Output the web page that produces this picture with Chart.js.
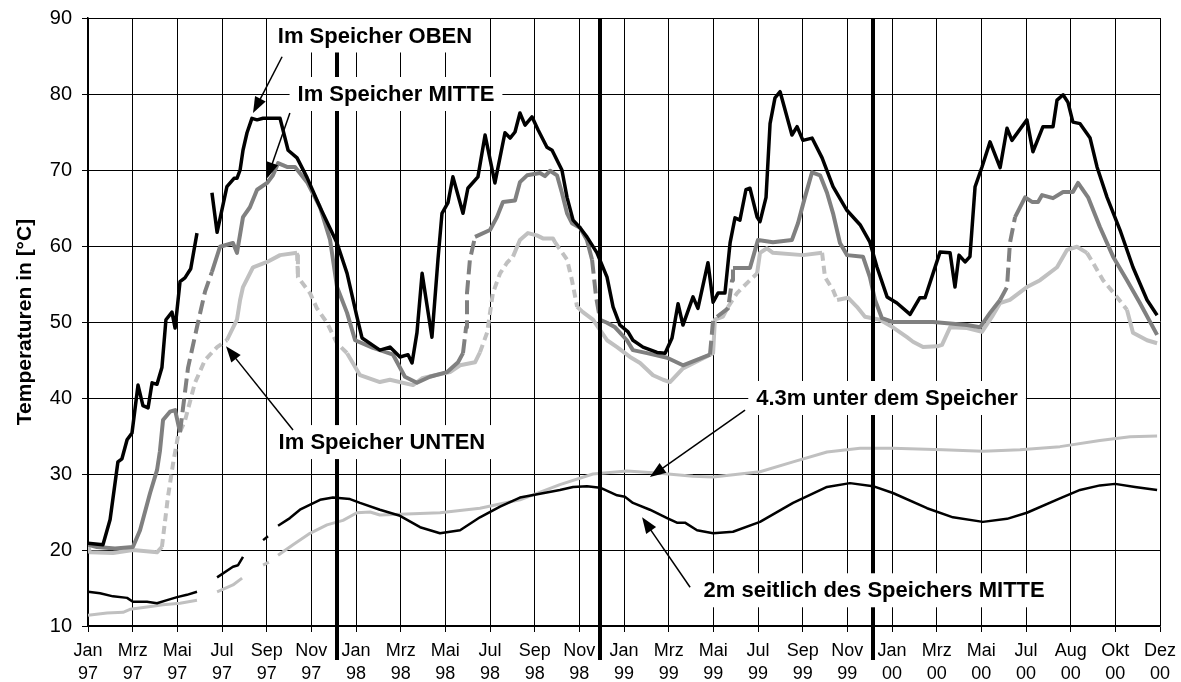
<!DOCTYPE html>
<html>
<head>
<meta charset="utf-8">
<script src="https://cdn.jsdelivr.net/npm/chart.js@4/dist/chart.umd.min.js"></script>
<style>
    body { margin: 0; background: #fff; }
    #chart { display: block; }
</style>
</head>
<body>
<canvas id="chart" width="1181" height="682"></canvas>
<script>
// Achsenbeschriftung (alle 2 Monate)
const monate = ['Jan','Mrz','Mai','Jul','Sep','Nov','Jan','Mrz','Mai','Jul','Sep','Nov',
                'Jan','Mrz','Mai','Jul','Sep','Nov','Jan','Mrz','Mai','Jul','Aug','Okt','Dez'];
const jahre = ['97','97','97','97','97','97','98','98','98','98','98','98',
               '99','99','99','99','99','99','00','00','00','00','00','00','00'];

// Zeit in Monaten ab Jan 97, Temperaturen in °C (null = Messluecke)
const obenMonat = [0,0.67,0.99,1.34,1.52,1.75,1.97,2.24,2.46,2.69,2.87,3.09,3.31,3.49,3.76,3.9,4.12,4.34,4.6,4.88,5.2,
    5.55,5.78,6.22,6.54,6.67,6.81,6.94,7.12,7.34,7.57,7.84,8.6,8.96,9.36,9.81,10.39,11.15,11.6,12.04,12.27,13.07,
    13.52,13.97,14.33,14.51,14.73,14.96,15.4,15.67,15.85,16.12,16.34,16.79,17.01,17.46,17.78,18.22,18.67,18.9,19.12,
    19.34,19.57,19.88,20.15,20.55,20.78,21.22,21.45,21.72,22.03,22.34,22.79,23.24,23.51,23.82,24.18,24.4,24.85,25.48,
    25.84,26.15,26.42,26.64,27.09,27.31,27.76,27.99,28.21,28.52,28.75,28.97,29.19,29.46,29.64,29.96,30.09,30.36,30.54,
    30.76,30.99,31.52,31.75,32.01,32.42,32.87,33.36,33.98,34.57,35.01,35.33,35.78,36.22,36.81,37.25,37.48,38.15,38.6,
    38.82,39,39.27,39.49,39.72,40.03,40.39,40.84,41.15,41.37,42.04,42.31,42.76,43.21,43.39,43.66,43.88,44.1,44.42,
    44.87,45.18,45.63,46.21,46.79,47.42,47.87];
const obenTemp = [20.9,20.7,24,31.6,32,34.5,35.4,41.7,39,38.7,42,41.8,44,50.3,51.3,49.2,55.3,55.8,57,61.7,null,
    67,61.8,67.8,68.9,68.9,70,72.6,74.9,76.8,76.6,76.8,76.8,72.6,71.6,69,65.1,60.4,56.4,50.7,47.9,46.3,
    46.7,45.4,45.7,44.6,48.6,56.4,48,58.2,64.3,65.7,69.1,64.3,67.6,69.1,74.6,68.3,74.9,74.2,75,
    77.5,75.9,77,75.3,73,72.6,70,66.4,63.4,62.4,61.2,59.1,55.9,52,49.6,48.7,47.6,46.7,46,
    45.9,47.9,52.4,49.6,53.3,51.8,57.8,52.6,53.8,53.8,60.4,63.7,63.4,67.4,67.6,63.8,63.2,66.4,76.1,
    79.5,80.3,74.6,75.7,73.9,74.2,71.6,67.8,64.7,62.8,60.5,57.2,53.3,52.5,51,53.2,53.2,59.2,59.1,
    54.6,58.8,57.9,58.6,67.8,70.4,73.7,70.3,75.5,73.9,76.6,72.4,75.7,75.7,79.2,79.9,78.9,76.3,76.1,
    74.2,70.4,66.4,62.1,57.2,52.9,50.9];

const mitteMonat = [0,0.4,1.21,2.01,2.33,2.78,3.09,3.22,3.36,3.67,3.9,4.12,4.48,4.93,5.24,5.55,5.91,6.49,6.67,6.94,
    7.25,7.57,8.02,8.28,8.51,8.91,9.27,9.81,10.39,10.84,11.15,11.6,11.96,12.76,13.07,13.66,14.19,14.73,15.31,16.07,
    16.57,16.79,16.93,16.97,17.1,17.33,18,18.31,18.58,19.12,19.34,19.66,20.24,20.46,20.69,21,21.22,21.45,21.67,22.03,
    22.34,22.57,22.75,22.93,23.24,23.6,24.13,24.4,25.03,25.93,26.64,27.85,27.99,28.66,28.84,28.88,29.64,30,30.67,
    31.52,31.79,32.1,32.42,32.78,33.09,33.36,33.67,33.99,34.7,35.01,35.24,35.55,36.04,37.25,37.84,39.36,39.94,40.39,
    40.84,41.15,41.28,41.51,41.96,42.27,42.54,42.72,43.21,43.66,44.1,44.33,44.78,45.31,45.9,46.52,47.1,47.87];
const mitteTemp = [20.7,20.4,20.2,20.4,22.6,27.5,30.5,33,37.1,38.2,38.4,35.5,44,50,54,56.6,59.9,60.4,59.1,63.8,
    65.1,67.4,68.3,69.3,70.9,70.4,70.4,68.4,65.1,60.8,54.6,51.2,47.6,46.6,46.3,45.7,42.8,42,42.8,43.4,
    44.7,45.9,49.3,53.8,58.2,61.2,62.1,63.8,65.8,66,68.4,69.3,69.6,69.2,69.9,69.3,67,64.3,63,62.4,
    60.8,58.2,53.3,50.3,49.9,49.3,47.6,46.3,45.9,45.3,44.3,45.7,50.3,51.8,55.5,57.1,57.1,60.8,60.5,
    60.8,63,66.4,69.7,69.3,67,64.3,60.4,58.8,58.6,55.9,52.9,50.5,50,50,50,49.6,49.3,51.2,
    52.9,54.6,60.4,63.8,66.4,65.8,65.8,66.7,66.3,67.1,67.1,68.3,66.4,62.5,58.6,55.5,52.5,48.3];

const untenMonat = [0,0.09,1.12,2.01,3.09,3.31,3.58,3.81,4.03,4.34,4.79,5.24,5.78,6.22,6.67,6.81,6.94,7.39,8.02,8.6,
    9.36,9.4,9.94,10.25,10.7,11.15,11.6,12.18,13.07,13.52,14.55,14.96,15.54,16.21,16.66,17.33,17.55,17.87,18.13,18.45,
    18.76,19.03,19.34,19.7,20.1,20.37,20.82,20.91,21.45,21.67,21.9,22.16,22.61,23.24,23.69,24.27,24.72,25.3,25.75,
    26.06,26.64,27.99,28.07,28.43,28.66,29.06,29.33,29.64,29.96,30.09,30.4,30.67,32.01,32.87,33,33.36,33.54,34.03,
    34.43,34.79,35.46,36.04,36.67,36.94,37.39,38.02,38.24,38.6,39.36,40.03,40.48,40.84,41.28,42.04,42.63,43.39,43.84,
    44.28,44.73,45,45.45,46.07,46.52,46.79,47.42,47.87];
const untenTemp = [20.5,19.7,19.6,20,19.7,20.4,27,31.4,35,37,42,45,46.7,47.6,50.3,52.9,54.6,57.2,57.9,58.8,
    59.1,55.9,53.8,51.8,49.9,47.2,45.9,43,42.1,42.4,41.7,42.6,43,43.4,44.3,44.7,46,48.6,53.8,56.4,
    57.8,58.6,60.8,61.7,61.4,61,61,60.5,58.2,55.5,52,51.3,50.3,47.6,46.7,45.4,44.6,43,42.4,
    42.1,43.9,45.9,50.3,50.7,52,53.8,54.6,55.5,56.4,59.1,59.7,59.1,58.8,59.1,55.9,54.2,52.9,53.2,
    52,50.7,50.3,49.3,48,47.4,46.7,46.8,47,49.3,49.2,48.7,50.7,52.5,52.9,54.6,55.5,57.2,59.5,
    59.9,59.1,57.8,55.5,53.3,51.6,48.6,47.6,47.2];

const seitlichMonat = [0,0.54,1.12,1.75,2.01,2.64,3.09,3.54,3.99,4.43,4.88,5.3,5.78,6.49,6.72,6.94,7.4,7.84,8.06,8.3,
    8.51,9.04,9.49,10.39,10.97,11.73,12.18,13.07,13.97,14.87,15.76,16.66,17.55,18.45,19.34,20.24,21.13,21.72,22.34,
    22.93,23.69,24.04,24.4,25.16,25.93,26.37,26.73,27.27,27.99,28.88,30.09,31.57,33.09,34.12,35.15,36.04,37.57,38.73,
    40.07,41.15,42.04,43.52,44.42,45.31,45.99,46.88,47.87];
const seitlichTemp = [14.5,14.3,13.9,13.7,13.2,13.2,13,13.4,13.8,14.1,14.5,null,16.4,17.8,18,19.1,null,21.3,21.8,null,
    23.2,24.2,25.3,26.6,26.9,26.7,26.2,25.3,24.5,23,22.2,22.6,24.3,25.7,26.9,27.4,27.9,28.3,28.4,
    28.2,27.2,27,26.2,25.3,24.2,23.6,23.6,22.6,22.2,22.4,23.7,26.2,28.3,28.8,28.4,27.5,25.5,24.3,
    23.7,24.1,24.9,26.8,27.9,28.5,28.7,28.3,27.9];

const unterMonat = [0,0.85,1.57,1.88,2.64,3.36,4.12,4.88,5.3,5.78,6.49,6.9,7.4,7.84,8.1,8.3,8.51,9.18,9.94,10.7,
    11.42,12.04,12.63,13.07,13.97,15.76,17.55,19.34,21.13,22.61,24.13,25.61,27.09,27.99,30.09,31.57,33.09,34.57,
    36.04,38.28,40.07,41.73,43.52,45.31,46.66,47.87];
const unterTemp = [11.4,11.7,11.8,12.2,12.5,12.8,13,13.4,null,14.5,15.4,16.3,null,18,18.4,null,19.3,20.7,22.2,23.3,
    23.9,24.9,25,24.6,24.7,24.9,25.5,26.6,28.6,30,30.4,30.1,29.7,29.6,30.3,31.6,32.9,33.4,
    33.4,33.2,33,33.2,33.6,34.4,34.9,35];

// gestrichelte Abschnitte (Monatsbereiche)
const mitteStriche = [[4.12, 5.55], [16.79, 17.33], [22.57, 22.93], [27.85, 28.88], [40.84, 41.51]];
const untenStriche = [[3.31, 6.22], [9.36, 11.6], [17.55, 19.03], [20.91, 21.9], [28.66, 29.96], [32.87, 33.54], [44.73, 46.52]];

// senkrechte Markierungslinien
const markenMonat = [11.15, 22.93, 35.15];

// Beschriftungen: [Text, Monat, Temp] und Pfeile [vonMonat, vonTemp, nachMonat, nachTemp]
const beschriftungen = [
    ['Im Speicher OBEN', 12.85, 87.7],
    ['Im Speicher MITTE', 13.79, 80],
    ['Im Speicher UNTEN', 13.16, 34.2],
    ['4.3m unter dem Speicher', 35.78, 40],
    ['2m seitlich des Speichers MITTE', 35.2, 14.7]
];
const pfeile = [
    [8.69, 84.9, 7.39, 77.5],
    [9.04, 77.5, 8.02, 68.9],
    [9.18, 35.8, 6.18, 46.8],
    [29.42, 38.4, 25.16, 29.6],
    [26.96, 15.1, 24.81, 24.3]
];

const schrift = '"Liberation Sans", Arial, sans-serif';
Chart.defaults.font.family = schrift;
Chart.defaults.color = '#000';

function punkte(monat, temp) {
    return monat.map((m, i) => ({ x: m, y: temp[i] }));
}

function gestrichelt(bereiche, muster) {
    return ctx => {
        const x = ctx.p0.parsed.x;
        for (const b of bereiche) {
            if (x >= b[0] - 0.001 && x < b[1] - 0.001) return muster;
        }
        return undefined;
    };
}

function pfeil(ctx, x1, y1, x2, y2) {
    const a = Math.atan2(y2 - y1, x2 - x1);
    const c = Math.cos(a), s = Math.sin(a);
    ctx.beginPath();
    ctx.moveTo(x1, y1);
    ctx.lineTo(x2 - 10 * c, y2 - 10 * s);
    ctx.stroke();
    ctx.beginPath();
    ctx.moveTo(x2, y2);
    ctx.lineTo(x2 - 16 * c + 6 * s, y2 - 16 * s - 6 * c);
    ctx.lineTo(x2 - 16 * c - 6 * s, y2 - 16 * s + 6 * c);
    ctx.closePath();
    ctx.fill();
}

const markierungen = {
    id: 'markierungen',
    afterDatasetsDraw(chart) {
        const ctx = chart.ctx;
        const xs = chart.scales.x, ys = chart.scales.y;
        const area = chart.chartArea;
        ctx.save();

        // dicke senkrechte Linien
        ctx.strokeStyle = '#000';
        ctx.lineWidth = 4;
        markenMonat.forEach(m => {
            const x = Math.round(xs.getPixelForValue(m));
            ctx.beginPath();
            ctx.moveTo(x, area.top);
            ctx.lineTo(x, area.bottom + 34);
            ctx.stroke();
        });

        // Textkaesten
        ctx.font = 'bold 22px ' + schrift;
        ctx.textAlign = 'center';
        ctx.textBaseline = 'middle';
        ctx.save();
        ctx.beginPath();
        ctx.rect(area.left + 1, area.top + 1, area.right - area.left - 2, area.bottom - area.top - 2);
        ctx.clip();
        beschriftungen.forEach(b => {
            const x = xs.getPixelForValue(b[1]);
            const y = ys.getPixelForValue(b[2]);
            const w = ctx.measureText(b[0]).width + 16;
            ctx.fillStyle = '#fff';
            ctx.fillRect(x - w / 2, y - 17, w, 34);
        });
        ctx.restore();
        ctx.fillStyle = '#000';
        beschriftungen.forEach(b => {
            ctx.fillText(b[0], xs.getPixelForValue(b[1]), ys.getPixelForValue(b[2]) + 1);
        });

        // Pfeile
        ctx.lineWidth = 1.5;
        pfeile.forEach(p => {
            pfeil(ctx, xs.getPixelForValue(p[0]), ys.getPixelForValue(p[1]),
                       xs.getPixelForValue(p[2]), ys.getPixelForValue(p[3]));
        });
        ctx.restore();
    }
};

new Chart(document.getElementById('chart').getContext('2d'), {
    type: 'line',
    data: {
        datasets: [
            {
                label: 'Im Speicher OBEN',
                data: punkte(obenMonat, obenTemp),
                borderColor: '#000',
                borderWidth: 3.5
            },
            {
                label: 'Im Speicher MITTE',
                data: punkte(mitteMonat, mitteTemp),
                borderColor: '#808080',
                borderWidth: 4,
                segment: { borderDash: gestrichelt(mitteStriche, [14, 6]) }
            },
            {
                label: 'Im Speicher UNTEN',
                data: punkte(untenMonat, untenTemp),
                borderColor: '#c0c0c0',
                borderWidth: 4,
                segment: { borderDash: gestrichelt(untenStriche, [8, 5]) }
            },
            {
                label: '2m seitlich des Speichers MITTE',
                data: punkte(seitlichMonat, seitlichTemp),
                borderColor: '#000',
                borderWidth: 2.5
            },
            {
                label: '4.3m unter dem Speicher',
                data: punkte(unterMonat, unterTemp),
                borderColor: '#c0c0c0',
                borderWidth: 3
            }
        ]
    },
    options: {
        responsive: false,
        animation: false,
        spanGaps: false,
        elements: {
            point: { radius: 0 },
            line: { tension: 0, borderJoinStyle: 'round', borderCapStyle: 'butt' }
        },
        layout: { padding: { left: 0, top: 18, right: 21, bottom: 0 } },
        plugins: {
            legend: { display: false },
            tooltip: { enabled: false }
        },
        scales: {
            x: {
                type: 'linear',
                min: 0,
                max: 48,
                border: { color: '#000', width: 1.5 },
                grid: { color: '#000', lineWidth: 1, tickLength: 6 },
                ticks: {
                    stepSize: 2,
                    autoSkip: false,
                    maxRotation: 0,
                    padding: 8,
                    font: { size: 18, lineHeight: 1.25 },
                    callback: v => {
                        const i = Math.round(v / 2);
                        return [monate[i], jahre[i]];
                    }
                },
                afterFit: s => {
                    s.height = 56;
                    s.paddingLeft = 0;
                    s.paddingRight = 0;
                }
            },
            y: {
                min: 10,
                max: 90,
                border: { color: '#000', width: 1.5 },
                grid: { color: '#000', lineWidth: 1, tickLength: 6 },
                ticks: { stepSize: 10, padding: 10, font: { size: 20 } },
                title: {
                    display: true,
                    text: 'Temperaturen in [°C]',
                    font: { size: 21, weight: 'bold' },
                    padding: { top: 13, bottom: 0 }
                },
                afterFit: s => {
                    s.width = 88;
                    s.paddingTop = 0;
                    s.paddingBottom = 0;
                }
            }
        }
    },
    plugins: [markierungen]
});
</script>
</body>
</html>
